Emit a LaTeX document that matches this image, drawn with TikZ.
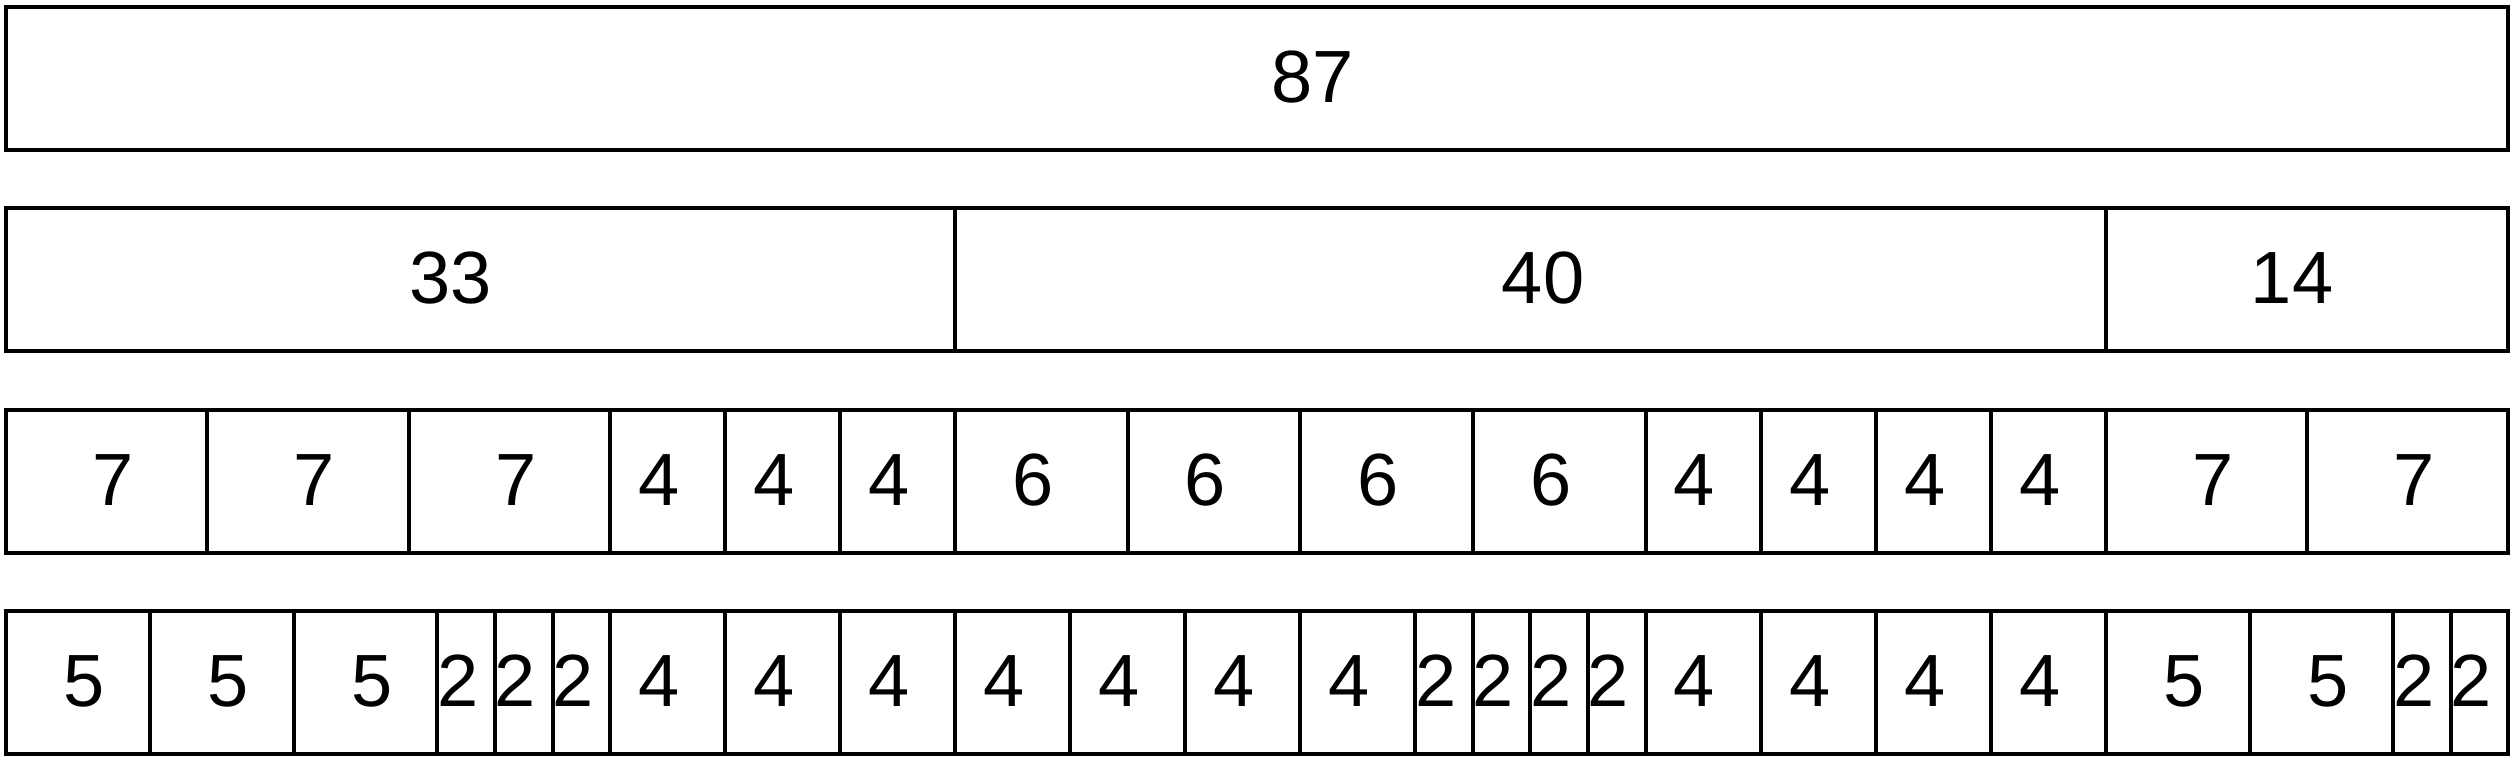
\documentclass[tikz,border=0pt]{standalone}
\usepackage{fontspec}
\setmainfont{Liberation Sans}
\begin{document}
\begin{tikzpicture}[x=1pt,y=-1pt,
  cell/.style={draw=black, line width=4pt},
  lbl/.style={anchor=base, inner sep=0pt, font=\fontsize{74}{80}\selectfont}]
\useasboundingbox (0,0) rectangle (2515,763);
\def\U{28.763}
\def\H{143}
% row 1
\draw[cell] (6,7) rectangle (2508.4,150);
\node[lbl] (r1c1) at (1312.5,102) {87};
% row 2
\pgfmathsetmacro\ta{6+33*\U}
\pgfmathsetmacro\tb{6+73*\U}
\draw[cell] (6,208.3) rectangle (\ta,351.3);
\draw[cell] (\ta,208.3) rectangle (\tb,351.3);
\draw[cell] (\tb,208.3) rectangle (2508.4,351.3);
\node[lbl] (r2c1) at (450.8,303.5) {33};
\node[lbl] (r2c2) at (1543,303.5) {40};
\node[lbl] (r2c3) at (2292,303.5) {14};
% rows 3 and 4
\foreach \row/\vals in {3/{7,7,7,4,4,4,6,6,6,6,4,4,4,4,7,7},4/{5,5,5,2,2,2,4,4,4,4,4,4,4,2,2,2,2,4,4,4,4,5,5,2,2}} {
  \pgfmathsetmacro\top{7+201.3*(\row-1)}
  \foreach \v [count=\i, remember=\e as \s (initially 0)] in \vals {
    \pgfmathsetmacro\e{\s+\v}
    \pgfmathsetmacro\xa{6+\U*\s}
    \pgfmathsetmacro\xb{6+\U*\e}
    \pgfmathsetmacro\off{mod(\v,2)==1 ? 6.5 : -8.5}
    \draw[cell] (\xa,\top) rectangle (\xb,\top+\H);
    \node[lbl] (r\row c\i) at ({(\xa+\xb)/2+\off},{\top+95.5}) {\v};
  }
}
\end{tikzpicture}
\end{document}
